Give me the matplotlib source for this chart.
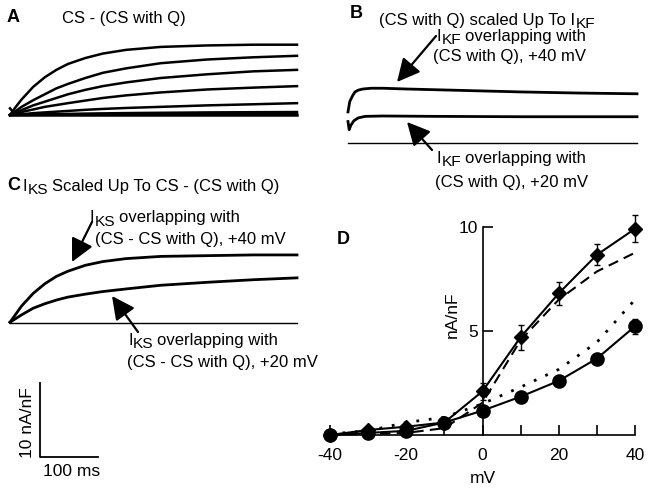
import matplotlib
matplotlib.use("Agg")
import matplotlib.pyplot as plt
from matplotlib.patches import FancyArrowPatch

plt.rcParams['font.family'] = ['Liberation Sans', 'DejaVu Sans']
plt.rcParams['mathtext.default'] = 'regular'

W, H = 649, 491
FS = 12

# ---------------- data ----------------
# Panel A: CS - (CS with Q), family of traces (ms, nA/nF)
t_A = [0, 10, 20, 40, 60, 80, 100, 130, 160, 200, 260, 340, 420, 495]
A_tr1 = [0, 1.1, 2.1, 3.8, 5.1, 6.1, 6.9, 7.7, 8.3, 8.8, 9.2, 9.4, 9.5, 9.5]
A_tr2 = [0, 0.55, 1.1, 2.0, 2.8, 3.6, 4.2, 5.0, 5.7, 6.3, 7.0, 7.5, 7.8, 8.0]
A_tr3 = [0, 0.34, 0.66, 1.3, 1.8, 2.3, 2.8, 3.4, 3.9, 4.4, 5.0, 5.5, 5.9, 6.1]
A_tr4 = [0, 0.2, 0.4, 0.75, 1.1, 1.35, 1.6, 1.95, 2.3, 2.65, 3.05, 3.45, 3.7, 3.9]
A_tr5 = [0, 0.05, 0.1, 0.25, 0.35, 0.45, 0.55, 0.7, 0.82, 0.95, 1.1, 1.3, 1.45, 1.6]
A_tr6 = [0, 0.02, 0.04, 0.08, 0.1, 0.13, 0.15, 0.19, 0.22, 0.26, 0.3, 0.35, 0.38, 0.4]
A_tr7 = [0.9, 0, 0.02, 0.03, 0.04, 0.05, 0.06, 0.07, 0.08, 0.09, 0.1, 0.12, 0.13, 0.14]
A_tr8 = [0, 0, 0, 0, 0, 0, 0, 0, 0, 0, 0, 0, 0, 0]

# Panel B: (CS with Q) scaled up to IKF
t_B40 = [0, 3, 8, 12, 18, 26, 40, 60, 100, 200, 300, 400, 500]
B_40 = [4.2, 5.6, 6.4, 6.9, 7.15, 7.3, 7.4, 7.4, 7.3, 7.1, 6.9, 6.75, 6.65]
t_B20 = [0, 2, 5, 10, 18, 30, 60, 150, 300, 500]
B_20 = [2.9, 1.8, 2.4, 3.0, 3.4, 3.6, 3.65, 3.6, 3.55, 3.55]
t_Bbase = [0, 500]
B_base = [0, 0]

# Panel C: IKS scaled up to CS - (CS with Q)
t_C = [0, 10, 20, 40, 60, 80, 100, 130, 160, 200, 260, 340, 420, 495]
C_40 = [0.1, 1.2, 2.3, 4.0, 5.3, 6.3, 7.0, 7.8, 8.3, 8.7, 9.0, 9.1, 9.2, 9.2]
C_20 = [0.1, 0.6, 1.1, 2.0, 2.6, 3.1, 3.5, 3.9, 4.25, 4.6, 5.1, 5.5, 5.85, 6.1]
t_Cbase = [0, 495]
C_base = [0, 0]

# Panel D: I-V (mV, nA/nF)
mV = [-40, -30, -20, -10, 0, 10, 20, 30, 40]
diamond = [0.0, 0.24, 0.4, 0.6, 2.1, 4.7, 6.8, 8.65, 9.9]
diamond_err = [0.05, 0.05, 0.05, 0.1, 0.4, 0.6, 0.55, 0.5, 0.65]
circle = [0.0, 0.1, 0.2, 0.6, 1.17, 1.84, 2.6, 3.67, 5.22]
circle_err = [0.02, 0.02, 0.02, 0.05, 0.1, 0.1, 0.1, 0.15, 0.35]
dashed = [0.0, 0.05, 0.1, 0.33, 1.55, 4.55, 6.5, 7.85, 8.75]
dotted = [0.05, 0.2, 0.6, 0.85, 1.5, 2.3, 3.15, 4.45, 6.5]
xticks_D = [-40, -20, 0, 20, 40]
xminor_D = [-40, -30, -20, -10, 0, 10, 20, 30, 40]
yticks_D = [5, 10]

# ---------------- figure ----------------
fig = plt.figure(figsize=(W / 100, H / 100), dpi=100)
renderer = fig.canvas.get_renderer()


def add_ax(x0, x1, ytop, ybot):
    return fig.add_axes([x0 / W, 1 - ybot / H, (x1 - x0) / W, (ybot - ytop) / H])


def ftext(x, y, s, **kw):
    kw.setdefault('fontsize', FS)
    kw.setdefault('ha', 'left')
    kw.setdefault('va', 'center')
    return fig.text(x / W, 1 - y / H, s, **kw)


def rich(x, ybase, segments):
    """segments: list of (text, is_subscript, gap_after_px); drawn on one baseline."""
    cx = x
    for s, sub, gap in segments:
        fs = FS * 0.92 if sub else FS
        dy = 3.5 if sub else 0
        t = fig.text(cx / W, 1 - (ybase + dy) / H, s, fontsize=fs, ha='left', va='baseline')
        bb = t.get_window_extent(renderer=renderer)
        cx += bb.width + gap


def arrow(x0, y0, x1, y1):
    a = FancyArrowPatch((x0 / W, 1 - y0 / H), (x1 / W, 1 - y1 / H),
                        transform=fig.transFigure,
                        arrowstyle='-|>,head_length=1.0,head_width=0.5',
                        mutation_scale=14, lw=1.6, color='black', shrinkA=0, shrinkB=0)
    fig.add_artist(a)


# Panel A
axA = add_ax(10, 297, 41, 115)
for tr in [A_tr8, A_tr7, A_tr6, A_tr5, A_tr4, A_tr3, A_tr2, A_tr1]:
    axA.plot(t_A, tr, color='black', lw=1.8, clip_on=False)
axA.set_xlim(0, 495)
axA.set_ylim(0, 10)
axA.axis('off')
ftext(7, 17, 'A', fontsize=13, fontweight='bold')
ftext(62, 18, 'CS - (CS with Q)')

# Panel B
axB = add_ax(348, 637, 69, 143)
axB.plot(t_Bbase, B_base, color='black', lw=1.0, clip_on=False)
axB.plot(t_B20, B_20, color='black', lw=2.0, clip_on=False)
axB.plot(t_B40, B_40, color='black', lw=2.0, clip_on=False)
axB.set_xlim(0, 500)
axB.set_ylim(0, 10)
axB.axis('off')
ftext(350, 14, 'B', fontsize=13, fontweight='bold')
rich(379, 24.5, [('(CS with Q) scaled Up To I', False, 0.5), ('KF', True, 0)])
rich(437, 41, [('I', False, 0.5), ('KF', True, 3.5), ('overlapping with', False, 0)])
ftext(433, 57, '(CS with Q), +40 mV')
rich(437, 163, [('I', False, 0.5), ('KF', True, 3.5), ('overlapping with', False, 0)])
ftext(435, 182, '(CS with Q), +20 mV')
arrow(436, 36, 397, 82)
arrow(432, 150, 407, 122)

# Panel C
axC = add_ax(10, 297, 249, 323)
axC.plot(t_Cbase, C_base, color='black', lw=1.0, clip_on=False)
axC.plot(t_C, C_20, color='black', lw=2.0, clip_on=False)
axC.plot(t_C, C_40, color='black', lw=2.0, clip_on=False)
axC.set_xlim(0, 495)
axC.set_ylim(0, 10)
axC.axis('off')
ftext(7, 185, 'C', fontsize=13, fontweight='bold')
rich(23, 191, [('I', False, 0.5), ('KS', True, 3.5), ('Scaled Up To CS - (CS with Q)', False, 0)])
rich(90, 222, [('I', False, 0.5), ('KS', True, 3.5), ('overlapping with', False, 0)])
ftext(95, 239, '(CS - CS with Q), +40 mV')
rich(128, 345, [('I', False, 0.5), ('KS', True, 3.5), ('overlapping with', False, 0)])
ftext(127, 363, '(CS - CS with Q), +20 mV')
arrow(92, 222, 72, 262)
arrow(138, 332, 112, 296)

# Scale bar
axS = add_ax(40, 98, 383, 457)
axS.plot([0, 0, 100], [10, 0, 0], color='black', lw=1.3, clip_on=False)
axS.set_xlim(0, 100)
axS.set_ylim(0, 10)
axS.axis('off')
ftext(28, 423, '10 nA/nF', rotation=90, ha='center', fontsize=12.5)
ftext(72, 471, '100 ms', ha='center', fontsize=12.5)

# Panel D
axD = add_ax(330, 635, 226.7, 435)
axD.plot(mV, dashed, color='black', lw=1.5, ls=(0, (5, 3)), clip_on=False)
axD.plot(mV, dotted, color='black', lw=2.0, ls=(0, (1, 3.5)), clip_on=False)
axD.errorbar(mV, diamond, yerr=diamond_err, color='black', lw=1.5, marker='D', ms=7.5,
             capsize=2.5, elinewidth=1, clip_on=False)
axD.errorbar(mV, circle, yerr=circle_err, color='black', lw=1.5, marker='o', ms=9.5,
             capsize=2.5, elinewidth=1, clip_on=False)
axD.set_xlim(-40, 40)
axD.set_ylim(0, 10)
for s in ['top', 'right']:
    axD.spines[s].set_visible(False)
axD.spines['left'].set_position(('data', 0))
axD.spines['left'].set_linewidth(1.2)
axD.spines['bottom'].set_linewidth(1.2)
axD.set_xticks(xminor_D)
axD.set_xticklabels([str(v) if v in xticks_D else '' for v in xminor_D])
axD.set_yticks(yticks_D)
axD.set_yticklabels([str(v) for v in yticks_D])
axD.tick_params(axis='x', direction='in', length=7, width=1.2, pad=9, labelsize=12.5)
axD.tick_params(axis='y', direction='in', length=7, width=1.2, pad=3, labelsize=12.5)
axD.set_xlabel('mV', fontsize=12.5)
axD.xaxis.set_label_coords(0.5, -0.175)
axD.set_ylabel('nA/nF', fontsize=12.5)
axD.yaxis.set_label_coords(0.427, 0.576)
ftext(337, 239, 'D', fontsize=13, fontweight='bold')

fig.savefig('out.png', dpi=100)
